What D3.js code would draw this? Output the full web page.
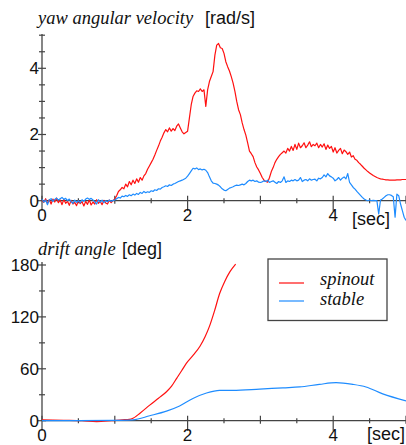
<!DOCTYPE html>
<html>
<head>
<script src="https://cdnjs.cloudflare.com/ajax/libs/d3/7.8.5/d3.min.js"></script>
<style>
  html, body { margin: 0; padding: 0; background: #fff; }
  svg { display: block; }
  .num { font-family: "Liberation Sans", Arial, sans-serif; font-size: 17px; fill: #111; }
  .unit { font-family: "Liberation Sans", Arial, sans-serif; font-size: 18px; fill: #111; }
</style>
</head>
<body>
<svg id="chart" width="406" height="445"></svg>
<script>

// sampling grid of the yaw record, one sample every 0.025 s
var yawTime = d3.range(201).map(function(i) { return +(i * 0.025).toFixed(3); });

// yaw angular velocity [rad/s], spinout run
var yawSpinout = [
  0.02,-0.05,0.06,-0.08,0.03,-0.1,0.05,-0.04,0.08,-0.06,0.02,-0.12,0.04,-0.08,-0.02,-0.14,0.01,-0.1,-0.05,-0.15,
  0.0,-0.09,-0.03,-0.16,-0.02,-0.11,0.02,-0.13,-0.04,-0.1,0.03,-0.08,-0.02,-0.12,0.01,-0.07,-0.1,0.02,-0.06,0.0,
  0.05,0.15,0.28,0.33,0.4,0.36,0.5,0.42,0.58,0.48,0.62,0.52,0.66,0.56,0.7,0.62,0.75,0.82,0.95,1.05,
  1.15,1.25,1.38,1.52,1.65,1.8,1.92,2.05,2.15,2.08,2.2,2.1,2.18,2.12,2.25,2.32,2.2,2.08,2.02,2.06,
  2.1,2.5,2.9,3.15,3.25,3.32,3.3,3.38,3.3,3.35,2.85,3.35,3.6,3.75,3.9,4.4,4.7,4.75,4.62,4.6,
  4.45,4.2,4.05,3.92,3.75,3.55,3.3,3.0,2.75,2.6,2.35,2.15,1.98,1.75,1.5,1.42,1.33,1.15,1.02,0.93,
  0.82,0.7,0.62,0.58,0.56,0.7,0.88,1.0,1.15,1.25,1.33,1.4,1.45,1.5,1.44,1.58,1.5,1.64,1.52,1.7,
  1.55,1.74,1.6,1.66,1.75,1.6,1.68,1.78,1.63,1.7,1.66,1.74,1.6,1.7,1.62,1.72,1.55,1.68,1.58,1.64,
  1.47,1.6,1.44,1.52,1.58,1.42,1.53,1.48,1.4,1.47,1.32,1.36,1.25,1.22,1.15,1.1,1.04,0.98,0.93,0.88,
  0.84,0.8,0.76,0.73,0.7,0.68,0.66,0.65,0.64,0.63,0.63,0.62,0.62,0.62,0.62,0.63,0.63,0.63,0.64,0.64,0.64
];

// yaw angular velocity [rad/s], stable run
var yawStable = [
  0.05,-0.04,0.02,-0.12,0.03,0.06,-0.02,0.04,0.08,0.02,0.06,0.1,0.04,0.07,0.0,0.05,-0.03,-0.08,0.02,-0.05,
  0.0,-0.06,0.03,-0.02,0.05,0.08,0.04,0.07,0.02,-0.03,-0.1,0.03,-0.04,0.02,-0.06,0.0,-0.03,0.02,-0.02,0.01,
  0.02,0.06,0.1,0.08,0.14,0.12,0.16,0.13,0.18,0.15,0.2,0.17,0.22,0.19,0.25,0.22,0.28,0.24,0.27,0.25,
  0.3,0.28,0.33,0.31,0.36,0.35,0.4,0.42,0.45,0.43,0.48,0.46,0.5,0.52,0.55,0.58,0.6,0.62,0.65,0.68,
  0.74,0.82,0.9,0.98,0.96,0.99,0.94,0.96,0.93,0.95,0.92,0.85,0.72,0.6,0.53,0.52,0.5,0.47,0.42,0.36,
  0.32,0.3,0.34,0.38,0.4,0.42,0.45,0.47,0.46,0.48,0.5,0.48,0.52,0.58,0.62,0.6,0.62,0.58,0.6,0.56,
  0.55,0.57,0.6,0.58,0.62,0.55,0.58,0.6,0.56,0.52,0.58,0.55,0.6,0.72,0.55,0.6,0.58,0.62,0.6,0.64,
  0.6,0.62,0.7,0.58,0.62,0.64,0.6,0.66,0.62,0.64,0.65,0.6,0.68,0.66,0.7,0.78,0.72,0.82,0.75,0.72,
  0.68,0.6,0.64,0.7,0.62,0.68,0.72,0.66,0.82,0.55,0.48,0.4,0.35,0.28,0.22,0.16,0.1,0.05,0.02,0.0,
  0.02,0.0,0.01,0.0,0.0,-0.4,0.02,0.05,0.1,0.15,0.18,0.18,0.16,0.12,-0.5,0.2,0.15,-0.1,-0.3,-0.5,-0.6
];

// drift angle [deg], [time, angle]
var driftSpinout = [
  [0,1],[0.3,0.5],[0.55,0],[0.75,-1],[0.95,0],[1.1,1],[1.2,1.5],[1.25,2.8],[1.35,9],[1.48,18],
  [1.6,26],[1.71,33.5],[1.78,40],[1.85,49],[1.92,58],[1.98,66],[2.08,76],[2.17,86],[2.24,97],
  [2.3,109],[2.37,127],[2.44,147],[2.51,161],[2.58,172],[2.66,181]
];
var driftStable = [
  [0,0],[0.5,0],[1.0,0.3],[1.25,1],[1.48,5.7],[1.71,11],[1.89,17],[2.08,26],[2.26,32],[2.44,35],
  [2.62,35],[2.99,36.5],[3.31,38],[3.54,39],[3.81,42],[4.04,44],[4.27,42],[4.45,39],[4.68,31],[5.0,23]
];

var xTicks = [0, 0.5, 1, 1.5, 2, 2.5, 3, 3.5, 4, 4.5, 5];
var xLabels = [0, 2, 4];
var yawTicks = [0, 0.5, 1, 1.5, 2, 2.5, 3, 3.5, 4, 4.5, 5];
var yawLabels = [0, 2, 4];
var driftTicks = [0, 30, 60, 90, 120, 150, 180];
var driftLabels = [0, 60, 120, 180];
var seriesNames = ["spinout", "stable"];
var colors = ["#ff1010", "#1e8cff"];

var svg = d3.select("#chart");

var x = d3.scaleLinear().domain([0, 5]).range([42, 406]);
var yYaw = d3.scaleLinear().domain([0, 5]).range([200.7, 35.2]);
var yDrift = d3.scaleLinear().domain([0, 180]).range([420.7, 265]);

function italText(px, py, str, size) {
  return svg.append("text")
    .attr("x", px).attr("y", py)
    .attr("font-family", "'Liberation Serif', 'Times New Roman', Times, serif")
    .attr("font-style", "italic")
    .attr("font-size", size)
    .attr("fill", "#111")
    .text(str);
}

function drawAxes(y, yTicks, yLabels, top) {
  var g = svg.append("g");
  var y0 = y(0);
  g.append("line").attr("x1", 42).attr("x2", 406).attr("y1", y0).attr("y2", y0)
    .attr("stroke", "#444").attr("stroke-width", 1.3);
  g.append("line").attr("x1", 42).attr("x2", 42).attr("y1", y0).attr("y2", top)
    .attr("stroke", "#444").attr("stroke-width", 1.3);

  xTicks.forEach(function(t) {
    var up = 2.5, down = 2.5;
    if (t % 1 === 0) { up = 5; down = 3; }
    if (xLabels.indexOf(t) >= 0) { up = 5; down = 10; }
    g.append("line").attr("x1", x(t)).attr("x2", x(t))
      .attr("y1", y0 - up).attr("y2", y0 + down)
      .attr("stroke", "#444").attr("stroke-width", 1.2);
  });
  yTicks.forEach(function(v) {
    var len = yLabels.indexOf(v) >= 0 ? 4 : 3;
    g.append("line").attr("x1", 42 - len).attr("x2", 42 + len)
      .attr("y1", y(v)).attr("y2", y(v))
      .attr("stroke", "#444").attr("stroke-width", 1.2);
  });

  g.selectAll("text.xl").data(xLabels).enter().append("text")
    .attr("class", "num").attr("text-anchor", "middle")
    .attr("x", function(d) { return x(d); }).attr("y", y0 + 20)
    .text(function(d) { return d; });
  g.selectAll("text.yl").data(yLabels).enter().append("text")
    .attr("class", "num").attr("text-anchor", "end")
    .attr("x", 39).attr("y", function(d) { return y(d); }).attr("dy", "0.35em")
    .text(function(d) { return d; });
}

drawAxes(yYaw, yawTicks, yawLabels, 34);
drawAxes(yDrift, driftTicks, driftLabels, 262);

// titles and units
italText(38, 23.5, "yaw angular velocity", 18.5);
svg.append("text").attr("class", "unit").attr("x", 205).attr("y", 24).text("[rad/s]");
svg.append("text").attr("class", "unit").attr("x", 352).attr("y", 225).text("[sec]");

italText(38, 255, "drift angle", 18.5);
svg.append("text").attr("class", "unit").attr("x", 122).attr("y", 255).text("[deg]");
svg.append("text").attr("class", "unit").attr("x", 367).attr("y", 440).text("[sec]");

// yaw lines
var yawLine = d3.line()
  .x(function(d) { return x(d[0]); })
  .y(function(d) { return yYaw(d[1]); });

[yawSpinout, yawStable].forEach(function(vals, i) {
  var pts = vals.map(function(v, k) { return [yawTime[k], v]; });
  svg.append("path").datum(pts)
    .attr("fill", "none").attr("stroke", colors[i]).attr("stroke-width", 1.2)
    .attr("stroke-linejoin", "round")
    .attr("d", yawLine);
});

// drift lines
var driftLine = d3.line()
  .curve(d3.curveMonotoneX)
  .x(function(d) { return x(d[0]); })
  .y(function(d) { return yDrift(d[1]); });

[driftSpinout, driftStable].forEach(function(pts, i) {
  svg.append("path").datum(pts)
    .attr("fill", "none").attr("stroke", colors[i]).attr("stroke-width", 1.2)
    .attr("d", driftLine);
});

// legend
var lg = svg.append("g");
lg.append("rect").attr("x", 268).attr("y", 259).attr("width", 119).attr("height", 61.5)
  .attr("fill", "#fff").attr("stroke", "#444").attr("stroke-width", 1.3);
seriesNames.forEach(function(name, i) {
  var ly = 283 + i * 18;
  lg.append("line").attr("x1", 279).attr("x2", 304).attr("y1", ly).attr("y2", ly)
    .attr("stroke", colors[i]).attr("stroke-width", 1.2);
  italText(320, 285 + i * 19.5, name, 18.5);
});

</script>
</body>
</html>
